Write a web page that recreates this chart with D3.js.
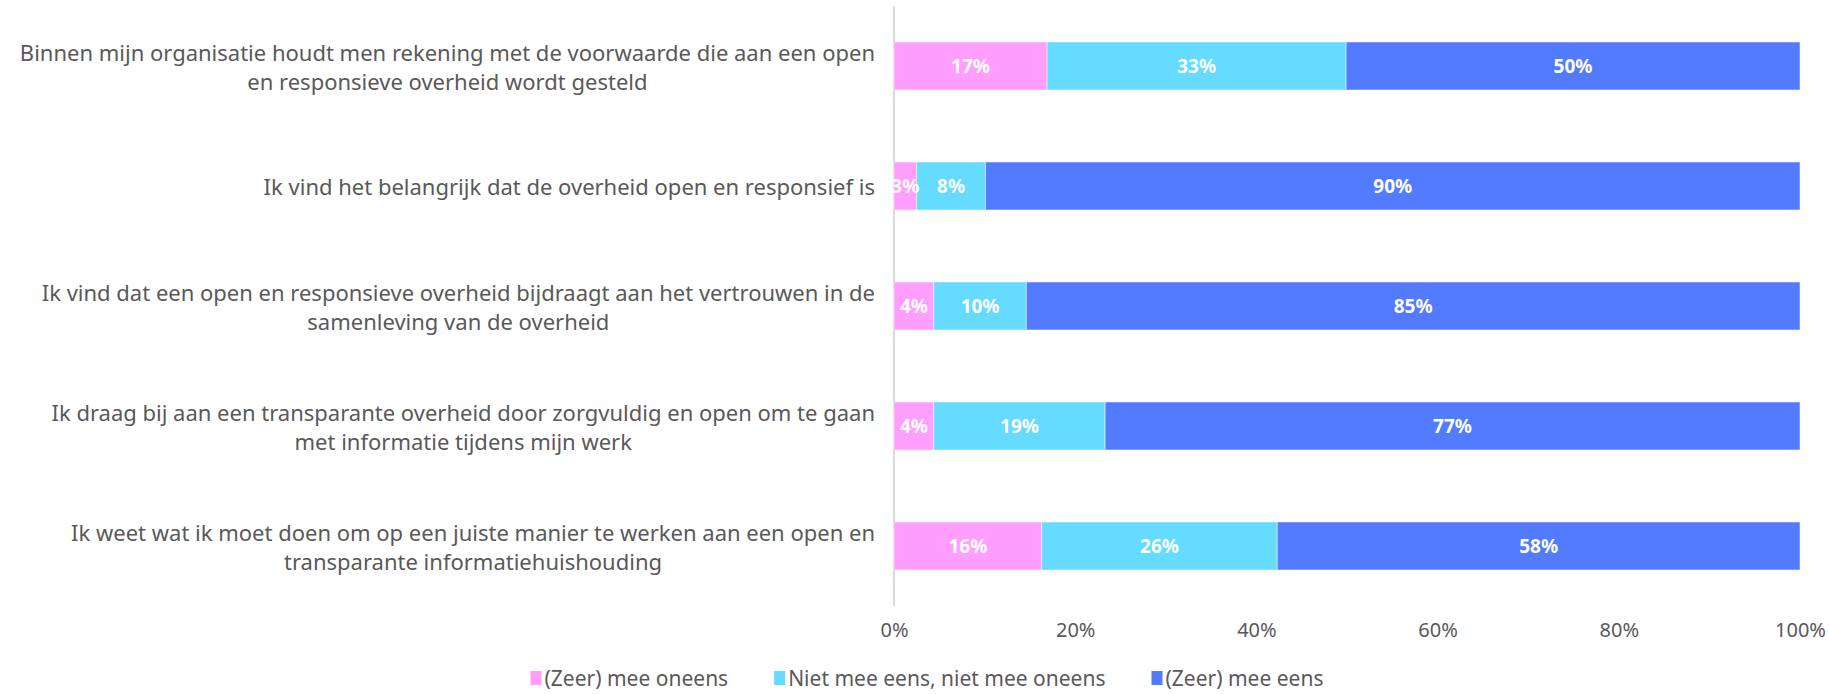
<!DOCTYPE html>
<html><head><meta charset="utf-8">
<script src="https://cdn.jsdelivr.net/npm/d3@7"></script>
<style>body{margin:0;background:#fff}svg{display:block}</style>
</head><body><svg id="c" width="1829" height="694"></svg>
<script>
const categories = [
  ["Binnen mijn organisatie houdt men rekening met de voorwaarde die aan een open", "en responsieve overheid wordt gesteld"],
  ["Ik vind het belangrijk dat de overheid open en responsief is"],
  ["Ik vind dat een open en responsieve overheid bijdraagt aan het vertrouwen in de", "samenleving van de overheid"],
  ["Ik draag bij aan een transparante overheid door zorgvuldig en open om te gaan", "met informatie tijdens mijn werk"],
  ["Ik weet wat ik moet doen om op een juiste manier te werken aan een open en", "transparante informatiehuishouding"]
];
const seriesNames = ["(Zeer) mee oneens", "Niet mee eens, niet mee oneens", "(Zeer) mee eens"];
const disagree = [16.9, 2.5, 4.4, 4.4, 16.3];
const neutral  = [33.0, 7.6, 10.2, 18.9, 26.0];
const agree    = [50.1, 89.9, 85.4, 76.7, 57.7];
const tickValues = [0, 20, 40, 60, 80, 100];
const tickLabels = ["0%", "20%", "40%", "60%", "80%", "100%"];
const colors = ["#FF9EFF", "#64DBFF", "#527BFF"];

const FONT = "'Noto Sans', 'Open Sans', sans-serif";
const svg = d3.select("#c");
const x = d3.scaleLinear().domain([0, 100]).range([894, 1800]);
const y = d3.scaleBand().domain(d3.range(categories.length)).range([6, 606]).paddingInner(0.6).paddingOuter(0.3);

const series = [disagree, neutral, agree];
const rows = categories.map((c, i) => {
  let acc = 0;
  return series.map((s, k) => { const v = s[i]; const o = {row: i, k, x0: acc, x1: acc + v, v}; acc += v; return o; });
});

// axis line
svg.append("line").attr("x1", x(0)).attr("x2", x(0)).attr("y1", 6).attr("y2", 606)
  .attr("stroke", "#d9d9d9").attr("stroke-width", 2);

const g = svg.append("g");
rows.forEach(r => {
  r.forEach(d => {
    g.append("rect").attr("x", x(d.x0)).attr("width", x(d.x1) - x(d.x0))
      .attr("y", y(d.row)).attr("height", y.bandwidth())
      .attr("fill", colors[d.k]).attr("stroke", "#ffffff").attr("stroke-opacity", 0.5).attr("stroke-width", 1);
  });
  r.forEach(d => {
    g.append("text").attr("x", (x(d.x0) + x(d.x1)) / 2).attr("y", y(d.row) + y.bandwidth() / 2)
      .attr("text-anchor", "middle").attr("dominant-baseline", "central")
      .attr("font-family", FONT).attr("font-weight", "bold").attr("font-size", 19).attr("fill", "#fff")
      .text(Math.round(d.v) + "%");
  });
});

// category labels
const LFS = 22;
categories.forEach((lines, i) => {
  const cy = y(i) + y.bandwidth() / 2;
  const lh = 29;
  const t0 = cy - (lines.length - 1) * lh / 2;
  const first = svg.append("text").attr("x", 875).attr("y", t0).attr("text-anchor", "end")
    .attr("dominant-baseline", "central").attr("font-family", FONT).attr("font-size", LFS).attr("fill", "#595959")
    .text(lines[0]);
  if (lines.length > 1) {
    const w = first.node().getComputedTextLength();
    for (let j = 1; j < lines.length; j++) {
      svg.append("text").attr("x", 875 - w / 2).attr("y", t0 + j * lh).attr("text-anchor", "middle")
        .attr("dominant-baseline", "central").attr("font-family", FONT).attr("font-size", LFS).attr("fill", "#595959")
        .text(lines[j]);
    }
  }
});

// x axis
const ax = svg.append("g").attr("transform", "translate(0,606)")
  .call(d3.axisBottom(x).tickValues(tickValues).tickSize(0).tickPadding(17).tickFormat((d, i) => tickLabels[i]));
ax.select(".domain").remove();
ax.selectAll("text").attr("font-family", FONT).attr("font-size", 20).attr("fill", "#595959");

// legend
const leg = svg.append("g");
let cx = 0;
const GAP = 46;
seriesNames.forEach((n, k) => {
  const it = leg.append("g").attr("transform", `translate(${cx},0)`);
  it.append("rect").attr("x", 0).attr("y", -7).attr("width", 11).attr("height", 14).attr("fill", colors[k]);
  const t = it.append("text").attr("x", 14).attr("y", 0).attr("dominant-baseline", "central")
    .attr("font-family", FONT).attr("font-size", 21).attr("fill", "#595959").text(n);
  cx += 14 + t.node().getComputedTextLength() + GAP;
});
const lw = cx - GAP;
leg.attr("transform", `translate(${927 - lw / 2},678)`);
</script></body></html>
